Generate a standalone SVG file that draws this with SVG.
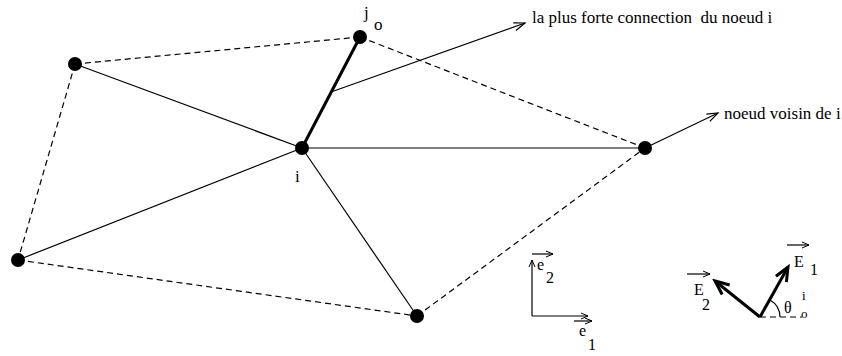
<svg xmlns="http://www.w3.org/2000/svg" width="842" height="356" viewBox="0 0 842 356">
<style>
text{font-family:"Liberation Serif","Times New Roman",serif;fill:#000}
.t{font-size:17px;white-space:pre}
.m{font-size:16px}
.s{font-size:13px}
.e{stroke:#000;stroke-width:1.2;fill:none}
.d{stroke:#000;stroke-width:1.2;fill:none;stroke-dasharray:6 4}
.n{fill:#000}
.thk{stroke:#000;stroke-width:3;fill:none}
</style>
<defs>
<marker id="ah" markerWidth="14" markerHeight="10" refX="12" refY="5" orient="auto" markerUnits="userSpaceOnUse">
<path d="M1,1 L12,5 L1,9" fill="none" stroke="#000" stroke-width="1.2"/>
</marker>
<marker id="ahs" markerWidth="10" markerHeight="8" refX="8" refY="4" orient="auto" markerUnits="userSpaceOnUse">
<path d="M1,1 L8,4 L1,7" fill="none" stroke="#000" stroke-width="1"/>
</marker>
<marker id="ahb" markerWidth="18" markerHeight="16" refX="15" refY="8" orient="auto" markerUnits="userSpaceOnUse">
<path d="M1,2 L15,8 L1,14" fill="none" stroke="#000" stroke-width="3"/>
</marker>
</defs>
<g id="connectors">
<line class="e" x1="75" y1="64" x2="302" y2="148"/>
<line class="e" x1="18" y1="260" x2="302" y2="148"/>
<line class="e" x1="302" y1="148" x2="645" y2="148"/>
<line class="e" x1="302" y1="148" x2="417" y2="316"/>
<line class="thk" x1="302" y1="148" x2="360" y2="37"/>
<line class="d" x1="75" y1="64" x2="360" y2="37"/>
<line class="d" x1="75" y1="64" x2="18" y2="260"/>
<line class="d" x1="18" y1="260" x2="417" y2="316"/>
<line class="d" x1="417" y1="316" x2="645" y2="148"/>
<line class="d" x1="360" y1="37" x2="645" y2="148"/>
<line class="e" x1="331" y1="92" x2="525" y2="23" marker-end="url(#ah)"/>
<line class="e" x1="645" y1="148" x2="718" y2="113" marker-end="url(#ah)"/>
</g>
<g id="node-A"><circle class="n" cx="75" cy="64" r="7"/></g>
<g id="node-B"><circle class="n" cx="18" cy="260" r="7"/></g>
<g id="node-i"><circle class="n" cx="302" cy="148" r="7"/><text class="t" x="295" y="182">i</text></g>
<g id="node-jo"><circle class="n" cx="360" cy="37" r="7"/><text class="t" x="364" y="18">j</text><text class="t" x="374" y="30">o</text></g>
<g id="node-right"><circle class="n" cx="645" cy="148" r="7"/></g>
<g id="node-bottom"><circle class="n" cx="417" cy="316" r="7"/></g>
<g id="labels">
<text class="t" x="532" y="23">la plus forte connection  du noeud i</text>
<text class="t" x="724" y="119">noeud voisin de i</text>
</g>
<g id="basis-e">
<line class="e" x1="532" y1="316" x2="532" y2="260" marker-end="url(#ahs)"/>
<line class="e" x1="532" y1="316" x2="588" y2="316" marker-end="url(#ahs)"/>
<line class="e" x1="532" y1="254" x2="553" y2="254" marker-end="url(#ahs)"/>
<text class="m" x="537" y="270">e</text><text class="m" x="546" y="283">2</text>
<line class="e" x1="574" y1="321" x2="592" y2="321" marker-end="url(#ahs)"/>
<text class="m" x="579" y="336">e</text><text class="m" x="588" y="350">1</text>
</g>
<g id="basis-E">
<line class="thk" x1="760" y1="317" x2="788" y2="267" marker-end="url(#ahb)"/>
<line class="thk" x1="760" y1="317" x2="715" y2="281" marker-end="url(#ahb)"/>
<line class="d" x1="760" y1="317" x2="802" y2="317" stroke-dasharray="5 3"/>
<path class="e" d="M770,300 A20,20 0 0 1 780,317"/>
<line class="e" x1="787" y1="245" x2="809" y2="245" marker-end="url(#ahs)"/>
<text class="m" x="794" y="267">E</text><text class="m" x="810" y="275">1</text>
<line class="e" x1="687" y1="274" x2="710" y2="274" marker-end="url(#ahs)"/>
<text class="m" x="694" y="295">E</text><text class="m" x="702" y="310">2</text>
<text class="m" x="784" y="313">θ</text>
<text class="s" x="802" y="300">i</text>
<text class="s" x="801" y="318">o</text>
</g>
</svg>
